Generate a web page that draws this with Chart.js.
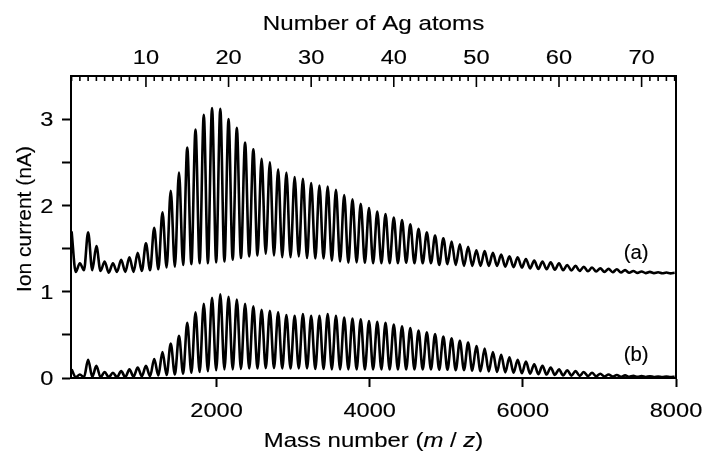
<!DOCTYPE html>
<html>
<head>
<meta charset="utf-8">
<script src="https://cdn.jsdelivr.net/npm/chart.js@4/dist/chart.umd.min.js"></script>
<style>
html,body{margin:0;padding:0;background:#fff;}
canvas{display:block;}
</style>
</head>
<body>
<canvas id="c" width="706" height="452"></canvas>
<script>
// ---- data ----
const AG_MASS = 107.87; // mass of one Ag atom
const atoms = [1,2,3,4,5,6,7,8,9,10,11,12,13,14,15,16,17,18,19,20,21,22,23,24,25,26,27,28,29,30,31,32,33,34,35,36,37,38,39,40,41,42,43,44,45,46,47,48,49,50,51,52,53,54,55,56,57,58,59,60,61,62,63,64,65,66,67,68,69,70,71,72,73,74];

// trace (a): peak maxima at each cluster size and minima between neighbours
const peakA = [1.70,1.33,1.69,1.53,1.35,1.33,1.37,1.40,1.45,1.56,
  1.74,1.92,2.17,2.38,2.67,2.88,3.05,3.13,3.12,3.00,
  2.90,2.73,2.65,2.54,2.50,2.42,2.38,2.33,2.31,2.26,
  2.23,2.22,2.18,2.12,2.07,2.02,1.97,1.93,1.90,1.86,
  1.83,1.78,1.73,1.69,1.65,1.62,1.58,1.55,1.52,1.48,
  1.47,1.45,1.43,1.41,1.40,1.38,1.36,1.35,1.34,1.33,
  1.31,1.30,1.29,1.28,1.27,1.265,1.26,1.25,1.24,1.235,
  1.23,1.225,1.222,1.22];
const valleyA = [1.23,1.25,1.25,1.24,1.22,1.23,1.23,1.23,1.24,1.25,
  1.26,1.28,1.29,1.31,1.32,1.33,1.33,1.34,1.35,1.37,
  1.39,1.41,1.42,1.44,1.42,1.40,1.40,1.41,1.39,1.385,
  1.385,1.36,1.35,1.335,1.34,1.335,1.33,1.33,1.33,1.33,
  1.335,1.33,1.33,1.33,1.31,1.32,1.31,1.30,1.30,1.30,
  1.30,1.30,1.29,1.285,1.28,1.27,1.265,1.26,1.255,1.25,
  1.245,1.24,1.237,1.234,1.23,1.226,1.222,1.22,1.218,1.216,
  1.215,1.214,1.213];

// trace (b)
const peakB = [0.10,0.04,0.21,0.14,0.07,0.06,0.08,0.10,0.12,0.14,
  0.22,0.30,0.40,0.49,0.64,0.76,0.86,0.93,0.97,0.94,
  0.91,0.86,0.83,0.79,0.78,0.76,0.73,0.72,0.74,0.72,
  0.72,0.74,0.72,0.70,0.69,0.68,0.66,0.65,0.64,0.62,
  0.60,0.58,0.55,0.53,0.51,0.48,0.46,0.43,0.41,0.37,
  0.34,0.30,0.27,0.24,0.21,0.19,0.16,0.14,0.12,0.10,
  0.09,0.08,0.07,0.06,0.05,0.04,0.035,0.03,0.025,0.022,
  0.02,0.018,0.016,0.015];
const valleyB = [0.01,0.01,0.015,0.01,0.01,0.01,0.01,0.015,0.02,0.02,
  0.03,0.035,0.04,0.05,0.06,0.07,0.08,0.09,0.10,0.10,
  0.105,0.11,0.11,0.115,0.115,0.11,0.11,0.11,0.11,0.105,
  0.105,0.10,0.10,0.10,0.10,0.10,0.10,0.10,0.10,0.10,
  0.10,0.10,0.10,0.10,0.095,0.095,0.09,0.09,0.085,0.08,
  0.075,0.07,0.065,0.06,0.055,0.05,0.045,0.04,0.035,0.03,
  0.028,0.025,0.022,0.02,0.018,0.016,0.015,0.014,0.013,0.012,
  0.012,0.011,0.011];

const massRange = [100, 8000];
const ionRange = [0, 3.5];
const massTicks = [2000, 4000, 6000, 8000];
const ionTicks = [0, 0.5, 1, 1.5, 2, 2.5, 3];
const ionLabels = [0, 1, 2, 3];
const atomLabels = [10, 20, 30, 40, 50, 60, 70];
const traceLabels = [
  {text: '(a)', mass: 7480, ion: 1.381},
  {text: '(b)', mass: 7480, ion: 0.192}
];
const xTitleParts = [['Mass number (', false], ['m', true], [' / ', false], ['z', true], [')', false]];
const topTitle = 'Number of Ag atoms';
const yTitle = 'Ion current (nA)';

// ---- build line points (peak at n atoms, minimum half-way to n+1) ----
function buildTrace(peaks, valleys) {
  const pts = [];
  atoms.forEach((n, i) => {
    pts.push({x: n * AG_MASS, y: peaks[i]});
    if (i < valleys.length) pts.push({x: (n + 0.5) * AG_MASS, y: valleys[i]});
  });
  return pts;
}

const FONT = '"Liberation Sans", Arial, Helvetica, sans-serif';
const TEXT_STROKE = 0.15;

function sText(ctx, text, x, y, align, font, sx) {
  ctx.save();
  ctx.font = font;
  ctx.translate(x, y);
  ctx.scale(sx, 1);
  ctx.textAlign = align;
  ctx.textBaseline = 'alphabetic';
  ctx.fillStyle = '#000';
  ctx.strokeStyle = '#000';
  ctx.lineWidth = TEXT_STROKE;
  ctx.fillText(text, 0, 0);
  ctx.strokeText(text, 0, 0);
  ctx.restore();
}

const decor = {
  id: 'decor',
  afterDraw(chart) {
    const ctx = chart.ctx;
    const ca = chart.chartArea;
    const xs = chart.scales.x, x2 = chart.scales.x2, ys = chart.scales.y;
    ctx.save();
    // top axis: inward ticks at every atom, long at multiples of ten
    ctx.strokeStyle = '#000';
    ctx.lineWidth = 1.6;
    atoms.forEach(n => {
      const px = x2.getPixelForValue(n);
      if (px < ca.left - 0.5 || px > ca.right + 0.5) return;
      const len = (n % 10 === 0) ? 11 : 5;
      ctx.beginPath();
      ctx.moveTo(px, ca.top);
      ctx.lineTo(px, ca.top + len);
      ctx.stroke();
    });
    const tickFont = '20px ' + FONT;
    const titleFont = '21px ' + FONT;
    const SX = 1.18;
    // tick labels
    atomLabels.forEach(n => sText(ctx, String(n), x2.getPixelForValue(n), 64.3, 'center', tickFont, SX));
    massTicks.forEach(v => sText(ctx, String(v), xs.getPixelForValue(v), 417.3, 'center', tickFont, SX));
    ionLabels.forEach(v => sText(ctx, String(v), 53.5, ys.getPixelForValue(v) + 7.2, 'right', tickFont, SX));
    // titles
    const cx = (ca.left + ca.right) / 2;
    sText(ctx, topTitle, cx, 30, 'center', titleFont, 1.15);
    // bottom title with italic m and z
    const SXT = 1.14;
    let total = 0;
    const widths = xTitleParts.map(([t, it]) => {
      ctx.font = (it ? 'italic ' : '') + titleFont;
      const w = ctx.measureText(t).width * SXT;
      total += w;
      return w;
    });
    let xx = cx - total / 2;
    xTitleParts.forEach(([t, it], i) => {
      sText(ctx, t, xx, 447.3, 'left', (it ? 'italic ' : '') + titleFont, SXT);
      xx += widths[i];
    });
    // y title (rotated)
    ctx.save();
    ctx.translate(30.5, 219);
    ctx.rotate(-Math.PI / 2);
    ctx.font = titleFont;
    ctx.textAlign = 'center';
    ctx.textBaseline = 'alphabetic';
    ctx.fillStyle = '#000';
    ctx.strokeStyle = '#000';
    ctx.lineWidth = TEXT_STROKE;
    ctx.fillText(yTitle, 0, 0);
    ctx.strokeText(yTitle, 0, 0);
    ctx.restore();
    // trace labels
    traceLabels.forEach(l => sText(ctx, l.text, xs.getPixelForValue(l.mass), ys.getPixelForValue(l.ion), 'center', '20px ' + FONT, 1.02));
    ctx.restore();
  }
};

const axisBorder = {display: true, color: '#000', width: 2};
const tickGrid = {drawOnChartArea: false, drawTicks: true, tickLength: 9, tickWidth: 2, tickColor: '#000'};
const noGrid = {drawOnChartArea: false, drawTicks: false};

new Chart(document.getElementById('c'), {
  type: 'line',
  data: {
    datasets: [
      {label: '(a)', data: buildTrace(peakA, valleyA), borderColor: '#000', borderWidth: 2.6, pointRadius: 0, cubicInterpolationMode: 'monotone', fill: false},
      {label: '(b)', data: buildTrace(peakB, valleyB), borderColor: '#000', borderWidth: 2.6, pointRadius: 0, cubicInterpolationMode: 'monotone', fill: false}
    ]
  },
  options: {
    responsive: false,
    animation: false,
    layout: {padding: 0},
    plugins: {legend: {display: false}, tooltip: {enabled: false}},
    scales: {
      x: {
        type: 'linear', position: 'bottom', min: massRange[0], max: massRange[1],
        afterBuildTicks: s => { s.ticks = massTicks.map(v => ({value: v})); },
        ticks: {display: false},
        grid: tickGrid, border: axisBorder,
        afterFit: s => { s.height = 74; }
      },
      x2: {
        type: 'linear', position: 'top', min: massRange[0] / AG_MASS, max: massRange[1] / AG_MASS,
        afterBuildTicks: s => { s.ticks = atoms.map(v => ({value: v})); },
        ticks: {display: false},
        grid: noGrid, border: axisBorder,
        afterFit: s => { s.height = 76; }
      },
      y: {
        type: 'linear', position: 'left', min: ionRange[0], max: ionRange[1],
        afterBuildTicks: s => { s.ticks = ionTicks.map(v => ({value: v})); },
        ticks: {display: false},
        grid: tickGrid, border: axisBorder,
        afterFit: s => { s.width = 71; }
      },
      y2: {
        type: 'linear', position: 'right', min: ionRange[0], max: ionRange[1],
        ticks: {display: false},
        grid: noGrid, border: axisBorder,
        afterFit: s => { s.width = 30; }
      }
    }
  },
  plugins: [decor]
});
</script>
</body>
</html>
